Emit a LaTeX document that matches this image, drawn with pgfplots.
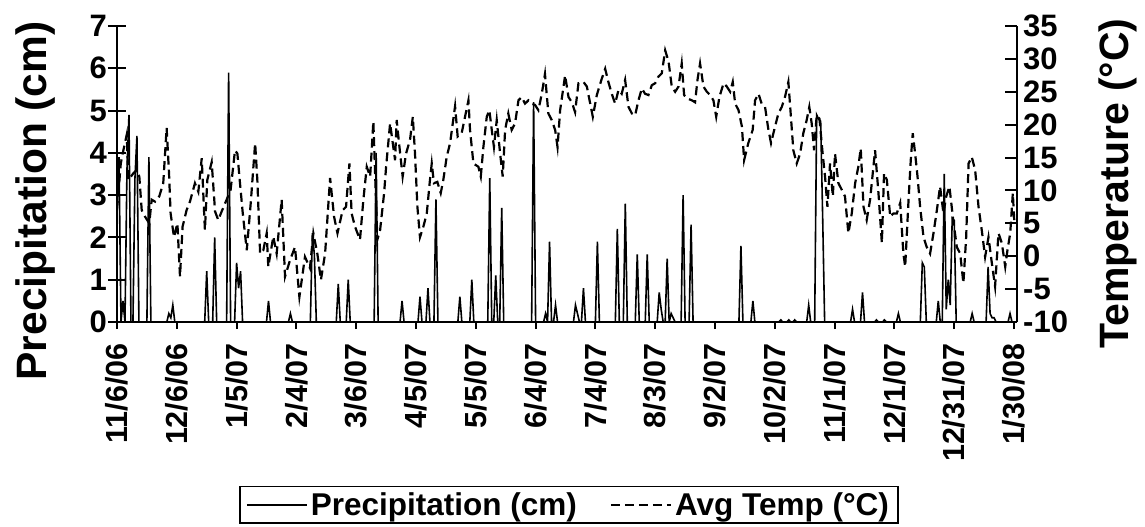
\documentclass[border=0pt]{standalone}
\usepackage{fontspec}
\setmainfont{Liberation Sans}
\usepackage{pgfplots}
\pgfplotsset{compat=1.18}
\newcommand{\tickfont}{\fontsize{31}{31}\selectfont\bfseries}
\newcommand{\xtickfont}{\fontsize{30.5}{30.5}\selectfont\bfseries}
\newcommand{\labfont}{\fontsize{41}{41}\selectfont\bfseries}
\begin{document}
\begin{tikzpicture}
\useasboundingbox (-117pt,-205pt) rectangle (1028pt,322pt);
% precipitation axis (left)
\begin{axis}[
  at={(0pt,0pt)}, anchor=south west, scale only axis,
  width=900pt, height=296pt,
  xmin=0, xmax=451.5, ymin=0, ymax=7,
  axis x line=none, axis y line*=left,
  axis line style={line width=2pt,-},
  ytick={0,1,...,7},
  tick align=center, major tick length=18pt,
  tick style={black, line width=2pt},
  /pgf/number format/assume math mode=true,
  yticklabel style={font=\tickfont, inner sep=1pt},
  ylabel={Precipitation (cm)},
  ylabel style={font=\fontsize{42.5}{42.5}\selectfont\bfseries, at={(axis description cs:-0.091,0.409)}, anchor=center},
]
\addplot[black, line width=1.6pt] coordinates {
(0,2.7)(1,3.9)(2,0)(3,0.5)(4,0)(5,3.6)(6,4.9)(7,0)(8,0)(9,3.4)(10,4.4)(11,0)(15,0)(16,3.9)(17,0)
(25,0)(26,0.2)(27,0.1)(28,0.4)(29,0)(44,0)(45,1.2)(46,0)(48,0)(49,2.0)(50,0)(55,0)(56,5.9)(57,0)
(59,0)(60,1.4)(61,0.8)(62,1.2)(63,0)(75,0)(76,0.5)(77,0)(86,0)(87,0.2)(88,0)(97,0)(98,2.1)(99,1.6)(100,0)
(110,0)(111,0.9)(112,0)(115,0)(116,1.0)(117,0)(129,0)(130,4.0)(131,0)(142,0)(143,0.5)(144,0)
(151,0)(152,0.6)(153,0)(155,0)(156,0.8)(157,0)(159,0)(160,2.9)(161,0)(171,0)(172,0.6)(173,0)
(177,0)(178,1.0)(179,0)(186,0)(187,3.4)(188,0)(189,0)(190,1.1)(191,0)(192,0)(193,2.7)(194,0)
(208,0)(209,5.2)(210,0)(214,0)(215,0.2)(216,0)(217,1.9)(218,0)(219,0)(220,0.4)(221,0)
(229,0)(230,0.4)(231,0.2)(232,0)(233,0)(234,0.8)(235,0)(240,0)(241,1.9)(242,0)(250,0)(251,2.2)(252,0)
(254,0)(255,2.8)(256,0)(260,0)(261,1.6)(262,0)(265,0)(266,1.6)(267,0)(271,0)(272,0.7)(273,0.3)(274,0)
(275,0)(276,1.5)(277,0)(278,0.2)(279,0.1)(280,0)(283,0)(284,3.0)(285,0)(287,0)(288,2.3)(289,0)
(312,0)(313,1.8)(314,0)(318,0)(319,0.5)(320,0)(332,0)(333,0.05)(334,0)(336,0)(337,0.05)(338,0)
(339,0)(340,0.05)(341,0)(346,0)(347,0.4)(348,0)(350,0)(351,4.9)(352,4.8)(353,4.75)(354,2.5)(355,0)
(368,0)(369,0.3)(370,0)(373,0)(374,0.7)(375,0)(380,0)(381,0.05)(382,0)(384,0)(385,0.05)(386,0)
(391,0)(392,0.2)(393,0)(403,0)(404,1.4)(405,1.3)(406,0)(411,0)(412,0.5)(413,0)(414,0)(415,3.5)
(416,0.3)(417,1.0)(418,0.4)(419,2.45)(420,2.4)(421,0)(428,0)(429,0.2)(430,0)(436,0)(437,1.3)
(438,0.2)(439,0.1)(440,0.1)(441,0)(447,0)(448,0.2)(449,0)(451,0)
};
\end{axis}
% temperature axis (right)
\begin{axis}[
  at={(0pt,0pt)}, anchor=south west, scale only axis,
  width=900pt, height=296pt,
  xmin=0, xmax=451.5, ymin=-10, ymax=35,
  axis x line=none, axis y line*=right,
  axis line style={line width=2pt,-},
  ytick={-10,-5,...,35},
  tick align=inside, major tick length=12pt,
  tick style={black, line width=2pt},
  /pgf/number format/assume math mode=true,
  yticklabel style={font=\tickfont, inner sep=6pt},
  ylabel={Temperature (°C)},
  ylabel style={font=\labfont, at={(axis description cs:1.112,0.468)}, anchor=center},
  legend columns=2,
  legend cell align=left,
  legend image code/.code={\draw[#1] (0pt,0pt) -- (60pt,0pt);},
  legend style={at={(axis description cs:0.1356,-0.553)}, anchor=north west,
    draw=black, line width=1.5pt, inner xsep=6pt, inner ysep=3pt,
    font=\fontsize{31.5}{31.5}\selectfont\bfseries, nodes={inner sep=3pt},
    /tikz/every even column/.append style={column sep=30pt}},
]
\addlegendimage{black, solid, line width=2pt}
\addlegendentry{Precipitation (cm)}
\addplot[black, line width=2.2pt, dash pattern=on 9pt off 5pt] coordinates {
(0,7.0)(1.9,14.1)(3.2,16.1)(4.9,18.5)(5.7,11.6)(8.2,12.6)(9.9,13.1)(11.2,12.1)(12.4,7.0)(14.1,6.0)
(16.2,5.0)(17.4,8.6)(19.1,8.3)(21.2,9.1)(23.2,11.1)(24.9,19.5)(26.1,12.6)(26.9,6.5)(28.6,2.9)(30.3,5.0)
(31.6,-3.1)(32.9,4.5)(34.9,7.0)(36.6,8.3)(39.1,11.1)(40.8,9.8)(42.5,14.9)(44.1,4.0)(45.3,11.6)(47.5,14.3)
(49.2,6.8)(50.8,5.5)(52.5,6.8)(55.0,8.6)(57.0,10.1)(59.2,16.1)(60.4,15.6)(61.7,11.1)(63.1,6.5)(65.1,0.9)
(67.1,8.1)(69.3,17.2)(70.4,11.6)(71.8,0.4)(73.4,0.9)(75.1,3.5)(75.9,-1.6)(78.4,3.0)(80.1,0.4)(82.6,8.6)
(84.3,-3.1)(86.8,-0.6)(89.3,1.4)(91.5,-6.2)(94.3,-0.1)(96.8,-1.8)(98.5,3.5)(100.5,0.4)(102.3,-3.6)(104.4,0.4)
(106.9,11.9)(108.9,6.0)(110.6,3.5)(113.2,7.0)(114.9,7.5)(116.6,14.1)(117.7,6.5)(119.4,4.5)(121.9,2.5)(123.6,8.6)
(125.3,13.6)(127.0,12.1)(128.6,20.5)(130.6,2.5)(132.0,4.0)(134.0,9.6)(135.0,13.6)(137.0,20.2)(139.5,14.6)(140.3,20.7)
(141.7,16.6)(143.3,12.1)(145.0,15.6)(147.0,17.7)(148.4,21.2)(149.5,15.6)(150.7,7.5)(152.0,2.9)(153.7,4.5)(155.4,6.5)
(157.0,11.6)(157.9,14.1)(159.0,11.1)(160.7,11.3)(162.4,9.6)(163.7,11.6)(165.4,15.1)(167.1,17.2)(169.6,22.8)(170.9,18.2)
(172.9,18.7)(174.6,21.2)(176.3,23.7)(177.1,19.2)(178.8,14.1)(181.3,13.6)(182.5,12.1)(183.8,16.6)(185.5,21.2)(186.8,22.2)
(188.0,19.2)(189.1,16.6)(190.5,20.7)(192.2,15.6)(193.5,12.1)(194.7,19.2)(196.3,21.7)(198.0,19.2)(199.7,20.2)(201.4,23.7)
(203.0,24.2)(204.7,23.2)(206.4,23.7)(208.0,23.2)(209.7,23.0)(211.4,22.2)(213.1,24.7)(214.7,27.7)(216.4,21.7)(218.1,20.7)
(219.8,19.2)(221.0,16.6)(222.3,22.2)(224.0,25.8)(224.8,27.5)(226.5,24.2)(228.2,23.4)(229.8,21.9)(231.5,26.3)(234.0,26.5)
(235.7,25.8)(237.4,23.2)(238.7,21.2)(240.7,24.5)(243.2,27.0)(244.9,28.5)(246.5,26.5)(248.2,24.7)(249.9,23.2)(251.6,25.3)
(253.2,24.7)(254.9,26.8)(256.6,22.7)(258.3,21.7)(259.9,21.4)(261.6,23.7)(263.3,25.5)(264.9,24.7)(266.6,24.5)(268.3,26.0)
(270.0,26.3)(271.6,27.3)(273.3,27.8)(275.0,31.3)(276.7,29.6)(278.3,25.8)(280.0,25.0)(281.7,25.8)(283.3,29.3)(284.5,24.5)
(285.9,24.0)(288.4,23.7)(290.0,23.4)(291.2,26.8)(292.5,29.3)(294.2,25.8)(295.9,25.0)(297.6,24.5)(299.2,23.7)(300.6,21.2)
(302.2,24.2)(304.3,26.3)(305.9,25.8)(307.6,25.0)(308.9,26.5)(310.1,23.2)(311.8,22.2)(313.5,19.7)(314.6,14.6)(316.7,17.2)
(318.9,19.2)(320.1,23.7)(321.8,24.7)(323.4,23.2)(325.1,22.7)(326.8,19.2)(328.1,17.2)(330.1,19.7)(331.8,21.7)(333.5,22.7)
(335.1,24.2)(336.8,26.5)(337.6,23.2)(339.3,16.1)(341.0,14.1)(342.7,15.6)(344.3,18.7)(346.0,20.7)(347.3,22.7)(348.5,20.2)
(349.7,16.1)(351.0,21.4)(352.4,20.9)(354.0,15.6)(355.2,12.1)(356.4,7.5)(357.7,14.1)(359.1,9.1)(360.2,15.6)(361.9,11.1)
(363.6,10.1)(365.2,9.1)(366.9,3.5)(368.6,6.5)(370.3,11.1)(371.9,13.6)(373.1,16.4)(374.5,7.5)(376.1,5.5)(377.8,8.6)
(380.3,16.1)(382.0,9.6)(383.7,2.0)(384.8,12.6)(386.2,11.6)(387.9,6.0)(389.5,6.5)(391.2,6.5)(392.9,8.1)(394.5,0.4)
(395.4,-1.6)(397.1,8.6)(398.2,14.6)(399.2,18.7)(400.4,15.6)(401.6,12.1)(402.9,7.5)(404.6,2.9)(406.2,1.4)(407.9,0.4)
(409.6,3.5)(411.3,7.0)(412.9,10.6)(414.6,6.5)(416.0,9.1)(417.6,10.6)(419.3,6.0)(421.3,1.4)(423.0,0.4)(424.6,-4.1)
(426.0,2.9)(427.2,14.1)(428.8,15.1)(430.5,13.1)(432.2,7.5)(433.8,4.0)(435.5,-0.1)(437.2,2.9)(438.9,-1.1)(440.5,-4.6)
(442.2,3.5)(443.9,2.0)(445.6,-1.6)(446.7,0.9)(448.1,3.5)(449.4,9.6)(450.1,5.5)
};
\addlegendentry{Avg Temp (°C)}
\end{axis}
% date axis (bottom)
\begin{axis}[
  at={(0pt,0pt)}, anchor=south west, scale only axis,
  width=900pt, height=296pt,
  xmin=0, xmax=451.5, ymin=0, ymax=1,
  axis y line=none, axis x line*=bottom,
  axis line style={line width=2pt,-},
  xtick={0,30,...,450},
  xticklabels={11/6/06,12/6/06,1/5/07,2/4/07,3/6/07,4/5/07,5/5/07,6/4/07,7/4/07,8/3/07,9/2/07,10/2/07,11/1/07,12/1/07,12/31/07,1/30/08},
  tick align=outside, major tick length=7pt,
  tick style={black, line width=2pt},
  xticklabel style={font=\xtickfont, rotate=90, anchor=east, inner xsep=14pt, inner ysep=2pt},
]
\end{axis}
\end{tikzpicture}
\end{document}
